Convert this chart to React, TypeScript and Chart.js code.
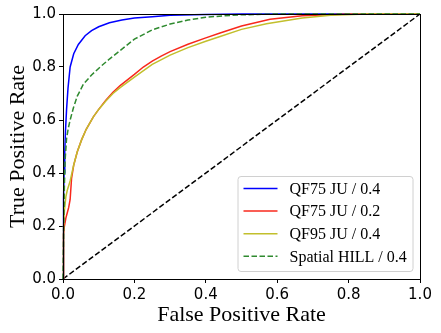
import React, { useEffect, useRef } from "react";
import { Chart, registerables } from "chart.js";

Chart.register(...registerables);

// ---- Data ----
const blueFpr = [0, 0.001, 0.002, 0.003, 0.005, 0.007, 0.01, 0.014, 0.02, 0.03, 0.043, 0.062, 0.08, 0.1, 0.13, 0.165, 0.2, 0.25, 0.3, 0.4, 0.5, 1.0];
const blueTpr = [0, 0.15, 0.3, 0.4, 0.48, 0.56, 0.64, 0.72, 0.8, 0.85, 0.885, 0.918, 0.937, 0.952, 0.967, 0.977, 0.985, 0.99, 0.995, 0.998, 1.0, 1.0];

const redFpr = [0, 0.001, 0.002, 0.004, 0.008, 0.012, 0.016, 0.02, 0.024, 0.03, 0.04, 0.052, 0.065, 0.085, 0.1, 0.12, 0.14, 0.16, 0.2, 0.225, 0.25, 0.275, 0.3, 0.35, 0.4, 0.44, 0.5, 0.58, 0.67, 0.8, 1.0];
const redTpr = [0, 0.1, 0.17, 0.2, 0.23, 0.25, 0.27, 0.3, 0.38, 0.43, 0.48, 0.525, 0.565, 0.612, 0.64, 0.675, 0.705, 0.73, 0.772, 0.8, 0.822, 0.841, 0.858, 0.886, 0.91, 0.928, 0.955, 0.98, 0.993, 1.0, 1.0];

const yellowFpr = [0, 0.001, 0.002, 0.004, 0.008, 0.012, 0.02, 0.03, 0.04, 0.052, 0.065, 0.085, 0.1, 0.12, 0.14, 0.16, 0.2, 0.25, 0.3, 0.35, 0.4, 0.44, 0.5, 0.57, 0.67, 0.75, 0.85, 1.0];
const yellowTpr = [0, 0.12, 0.2, 0.26, 0.31, 0.335, 0.37, 0.43, 0.48, 0.525, 0.565, 0.612, 0.64, 0.672, 0.7, 0.722, 0.762, 0.81, 0.845, 0.873, 0.897, 0.915, 0.942, 0.963, 0.985, 0.995, 1.0, 1.0];

const greenFpr = [0, 0.002, 0.004, 0.006, 0.01, 0.015, 0.02, 0.029, 0.04, 0.057, 0.08, 0.104, 0.13, 0.16, 0.2, 0.25, 0.3, 0.35, 0.4, 0.45, 0.5, 0.6, 1.0];
const greenTpr = [0, 0.2, 0.36, 0.45, 0.53, 0.57, 0.6, 0.645, 0.69, 0.735, 0.77, 0.8, 0.83, 0.862, 0.905, 0.94, 0.962, 0.977, 0.988, 0.993, 0.997, 1.0, 1.0];

const diagFpr = [0, 1];
const diagTpr = [0, 1];

const seriesLabels = ["QF75 JU / 0.4", "QF75 JU / 0.2", "QF95 JU / 0.4", "Spatial HILL / 0.4"];
const xTicks = [0, 0.2, 0.4, 0.6, 0.8, 1.0];
const yTicks = [0, 0.2, 0.4, 0.6, 0.8, 1.0];

const toPts = (xs: number[], ys: number[]) => xs.map((x, i) => ({ x, y: ys[i] }));

const TICK_FONT = { family: "'DejaVu Sans'", size: 15 };
const TITLE_FONT = { family: "'Liberation Serif'", size: 22 };

export default function App() {
  const ref = useRef<HTMLCanvasElement | null>(null);

  useEffect(() => {
    if (!ref.current) return;
    document.body.style.margin = "0";

    const framePlugin = {
      id: "frame",
      afterDatasetsDraw(chart: any) {
        const { ctx, chartArea: a } = chart;
        ctx.save();
        ctx.strokeStyle = "#000";
        ctx.lineWidth = 1;
        ctx.strokeRect(Math.round(a.left) + 0.5, Math.round(a.top) + 0.5, Math.round(a.right - a.left), Math.round(a.bottom - a.top));
        ctx.restore();
      },
    };

    const legendPlugin = {
      id: "innerLegend",
      afterDraw(chart: any) {
        const { ctx, chartArea: a } = chart;
        const w = 175, h = 95;
        const x0 = a.right - 7.5 - w;
        const y0 = a.bottom - 8 - h;
        ctx.save();
        ctx.beginPath();
        (ctx as any).roundRect(x0 + 0.5, y0 + 0.5, w, h, 3);
        ctx.fillStyle = "rgba(255,255,255,0.85)";
        ctx.fill();
        ctx.strokeStyle = "#d0d0d0";
        ctx.lineWidth = 1;
        ctx.stroke();
        const items = chart.data.datasets.filter((d: any) => d.inLegend);
        items.forEach((d: any, i: number) => {
          const cy = y0 + 12.5 + i * 22.6;
          ctx.beginPath();
          ctx.setLineDash(d.borderDash || []);
          ctx.strokeStyle = d.borderColor;
          ctx.lineWidth = d.borderWidth;
          ctx.moveTo(x0 + 6, cy);
          ctx.lineTo(x0 + 40, cy);
          ctx.stroke();
          ctx.setLineDash([]);
          ctx.fillStyle = "#000";
          ctx.font = "16px 'Liberation Serif'";
          ctx.textBaseline = "middle";
          ctx.textAlign = "left";
          ctx.fillText(d.label, x0 + 52, cy + 1);
        });
        ctx.restore();
      },
    };

    const common = { pointRadius: 0, borderWidth: 1.5, tension: 0, fill: false, clip: 4 };

    const chart = new Chart(ref.current, {
      type: "line",
      data: {
        datasets: [
          { ...common, label: seriesLabels[0], data: toPts(blueFpr, blueTpr), borderColor: "#0000ff", order: 4, inLegend: true },
          { ...common, label: seriesLabels[1], data: toPts(redFpr, redTpr), borderColor: "#f8281c", order: 3, inLegend: true },
          { ...common, label: seriesLabels[2], data: toPts(yellowFpr, yellowTpr), borderColor: "#c2bf2c", order: 2, inLegend: true },
          { ...common, label: seriesLabels[3], data: toPts(greenFpr, greenTpr), borderColor: "#2f8a2f", borderDash: [5.5, 2.5], order: 1, inLegend: true },
          { ...common, label: "diag", data: toPts(diagFpr, diagTpr), borderColor: "#000000", borderDash: [5.5, 2.5], order: 5, inLegend: false },
        ] as any,
      },
      options: {
        responsive: false,
        devicePixelRatio: 1,
        animation: false,
        layout: { padding: { top: 14, right: 21, left: 0, bottom: 0 } },
        plugins: { legend: { display: false }, tooltip: { enabled: false } },
        scales: {
          x: {
            type: "linear",
            min: 0,
            max: 1,
            afterBuildTicks: (s: any) => { s.ticks = xTicks.map((v) => ({ value: v })); },
            afterFit: (s: any) => { s.height = 54; },
            ticks: { font: TICK_FONT, color: "#000", padding: 3, callback: (v: any) => Number(v).toFixed(1), maxRotation: 0, autoSkip: false },
            grid: { drawOnChartArea: false, drawTicks: true, tickLength: 4, color: "#000", lineWidth: 1 },
            border: { display: true, color: "#000", width: 1 },
            title: { display: true, text: "False Positive Rate", font: TITLE_FONT, color: "#000", padding: { top: 0, bottom: 5 } },
          },
          y: {
            type: "linear",
            min: 0,
            max: 1,
            afterBuildTicks: (s: any) => { s.ticks = yTicks.map((v) => ({ value: v })); },
            afterFit: (s: any) => { s.width = 63; },
            ticks: { font: TICK_FONT, color: "#000", padding: 3, callback: (v: any) => Number(v).toFixed(1), autoSkip: false },
            grid: { drawOnChartArea: false, drawTicks: true, tickLength: 4, color: "#000", lineWidth: 1 },
            border: { display: true, color: "#000", width: 1 },
            title: { display: true, text: "True Positive Rate", font: TITLE_FONT, color: "#000", padding: { top: 5, bottom: 0 } },
          },
        },
      } as any,
      plugins: [framePlugin, legendPlugin],
    });

    return () => chart.destroy();
  }, []);

  return (
    <div style={{ position: "fixed", left: 0, top: 0, width: 441, height: 333, background: "#fff" }}>
      <canvas ref={ref} width={441} height={333} style={{ width: 441, height: 333, display: "block" }} />
    </div>
  );
}
